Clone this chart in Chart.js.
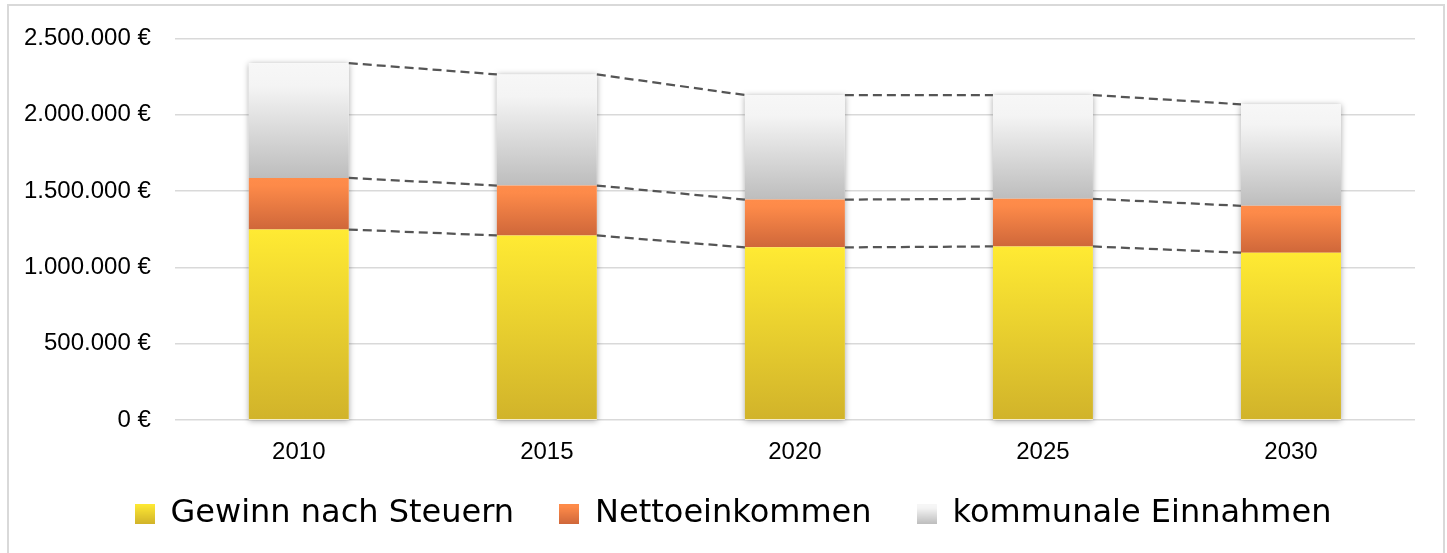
<!DOCTYPE html>
<html>
<head>
<meta charset="utf-8">
<script src="https://cdn.jsdelivr.net/npm/chart.js@4/dist/chart.umd.min.js"></script>
<style>
  html, body { margin: 0; padding: 0; background: #fff; overflow: hidden; }
  #wrap { position: relative; width: 1447px; height: 553px; }
  #frame { position: absolute; left: 7px; top: 4px; width: 1438px; height: 600px;
           box-sizing: border-box; border: 2px solid #d9d9d9; pointer-events: none; }
</style>
</head>
<body>
<div id="wrap">
  <canvas id="chart" width="1447" height="553"></canvas>
  <div id="frame"></div>
</div>
<script>
// Daten
var years = ['2010', '2015', '2020', '2025', '2030'];
var gewinn = [1248000, 1209000, 1131000, 1137000, 1096000];
var netto = [338000, 327000, 313000, 312000, 307000];
var kommunal = [752000, 728000, 685000, 680000, 665000];
var seriesNames = ['Gewinn nach Steuern', 'Nettoeinkommen', 'kommunale Einnahmen'];
var yTicks = [0, 500000, 1000000, 1500000, 2000000, 2500000];

var series = [gewinn, netto, kommunal];

// Farbverläufe (oben -> unten)
var gradStops = [
    [[0, '#ffea33'], [1, '#d1b32a']],
    [[0, '#ff8c4a'], [0.15, '#fd8a49'], [1, '#cf673a']],
    [[0, '#f7f7f7'], [0.2, '#f4f4f4'], [1, '#bdbdbd']]
];

function makeGradient(ctx, y0, y1, stops) {
    var g = ctx.createLinearGradient(0, y0, 0, y1);
    stops.forEach(function (s) { g.addColorStop(s[0], s[1]); });
    return g;
}

// Legendensymbole als kleine Canvas-Bilder
function legendIcon(stops) {
    var c = document.createElement('canvas');
    c.width = 20; c.height = 20;
    var cx = c.getContext('2d');
    cx.fillStyle = makeGradient(cx, 0, 20, stops);
    cx.fillRect(0, 0, 20, 20);
    return c;
}
var icons = gradStops.map(legendIcon);

function stackBottom(ds, i) {
    var s = 0;
    for (var k = 0; k < ds; k++) s += series[k][i];
    return s;
}

function barFill(ds) {
    return function (context) {
        var chart = context.chart;
        var y = chart.scales.y;
        var i = context.dataIndex;
        if (!y || i === undefined) return gradStops[ds][0][1];
        var b = stackBottom(ds, i);
        var p0 = y.getPixelForValue(b + series[ds][i]);
        var p1 = y.getPixelForValue(b);
        if (!isFinite(p0) || !isFinite(p1) || p0 === p1) return gradStops[ds][0][1];
        return makeGradient(chart.ctx, p0, p1, gradStops[ds]);
    };
}

function fmtEuro(v) {
    return String(v).replace(/\B(?=(\d{3})+(?!\d))/g, '.') + ' €';
}

// Schatten unter den Säulen und gestrichelte Verbindungslinien
var barExtras = {
    id: 'barExtras',
    afterLayout: function (chart) {
        // x-Achse wurde für die Legende schmal gemacht; Beschriftung nicht abschneiden
        chart.scales.x.bottom = chart.scales.x.top + 60;
        // Legende etwas nach rechts
        chart.legend.left += 51;
    },
    beforeDatasetsDraw: function (chart) {
        var ctx = chart.ctx;
        var y = chart.scales.y;
        var bars = chart.getDatasetMeta(0).data;
        ctx.save();
        ctx.shadowColor = 'rgba(0,0,0,0.35)';
        ctx.shadowBlur = 6;
        ctx.shadowOffsetY = 1;
        ctx.fillStyle = '#ffffff';
        bars.forEach(function (el, i) {
            var top = y.getPixelForValue(stackBottom(series.length, i));
            var base = y.getPixelForValue(0);
            ctx.fillRect(el.x - el.width / 2, top, el.width, base - top);
        });
        ctx.restore();
    },
    afterDatasetsDraw: function (chart) {
        var ctx = chart.ctx;
        var y = chart.scales.y;
        var bars = chart.getDatasetMeta(0).data;
        ctx.save();
        ctx.strokeStyle = '#555555';
        ctx.lineWidth = 2.25;
        ctx.setLineDash([9, 5]);
        for (var k = 1; k <= series.length; k++) {
            for (var i = 0; i < bars.length - 1; i++) {
                var a = bars[i], b = bars[i + 1];
                ctx.beginPath();
                ctx.moveTo(a.x + a.width / 2, y.getPixelForValue(stackBottom(k, i)));
                ctx.lineTo(b.x - b.width / 2, y.getPixelForValue(stackBottom(k, i + 1)));
                ctx.stroke();
            }
        }
        ctx.restore();
    }
};

var myChart = new Chart(document.getElementById('chart').getContext('2d'), {
    type: 'bar',
    data: {
        labels: years,
        datasets: series.map(function (d, k) {
            return {
                label: seriesNames[k],
                data: d,
                backgroundColor: barFill(k),
                borderWidth: 0,
                categoryPercentage: 1,
                barPercentage: 0.403,
                clip: false
            };
        })
    },
    options: {
        responsive: false,
        animation: false,
        layout: { padding: { left: 0, right: 32, top: 16, bottom: 13 } },
        scales: {
            x: {
                stacked: true,
                grid: { display: false, drawTicks: false },
                border: { display: false },
                ticks: { color: '#000', padding: 18, font: { family: 'Liberation Sans', size: 24 } },
                afterFit: function (scale) { scale.height = 33; }
            },
            y: {
                stacked: true,
                min: 0,
                max: 2500000,
                afterBuildTicks: function (scale) {
                    scale.ticks = yTicks.map(function (v) { return { value: v }; });
                },
                grid: { color: '#d9d9d9', lineWidth: 1.5, drawTicks: false },
                border: { display: false },
                ticks: {
                    color: '#000',
                    padding: 24,
                    font: { family: 'Liberation Sans', size: 24 },
                    callback: function (v) { return fmtEuro(v); }
                }
            }
        },
        plugins: {
            tooltip: { enabled: false },
            legend: {
                position: 'bottom',
                labels: {
                    usePointStyle: true,
                    boxWidth: 20,
                    boxHeight: 20,
                    padding: 45,
                    color: '#000',
                    font: { family: 'DejaVu Sans', size: 32 },
                    generateLabels: function (chart) {
                        return chart.data.datasets.map(function (ds, i) {
                            return {
                                text: ds.label,
                                pointStyle: icons[i],
                                fillStyle: gradStops[i][0][1],
                                strokeStyle: 'rgba(0,0,0,0)',
                                lineWidth: 0,
                                hidden: false,
                                datasetIndex: i
                            };
                        });
                    }
                }
            }
        }
    },
    plugins: [barExtras]
});
</script>
</body>
</html>
